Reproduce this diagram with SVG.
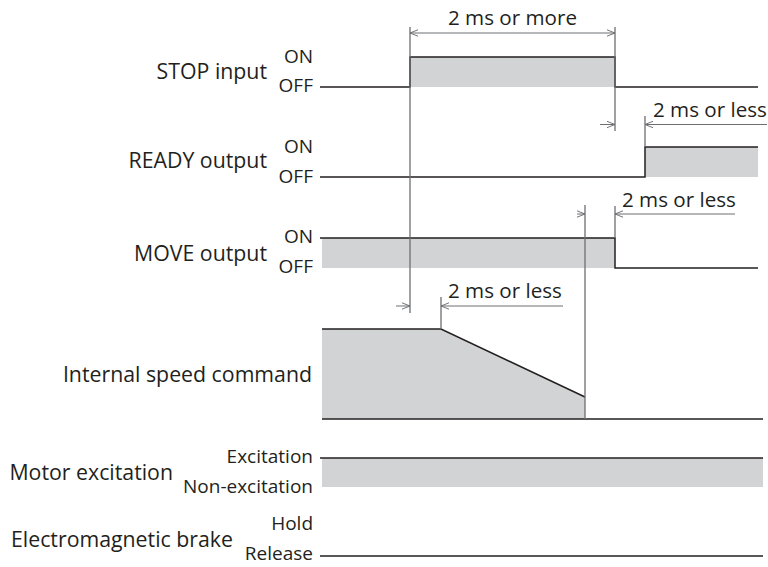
<svg xmlns="http://www.w3.org/2000/svg" width="768" height="567" viewBox="0 0 768 567">
<defs>
<style>
.lbl{font-family:"Open Sans","Noto Sans","Liberation Sans",sans-serif;font-size:21.3px;fill:#231f20;text-anchor:end}
.sm{font-family:"Open Sans","Noto Sans","Liberation Sans",sans-serif;font-size:19px;fill:#231f20;text-anchor:end}
.dim{font-family:"Open Sans","Noto Sans","Liberation Sans",sans-serif;font-size:20.6px;fill:#231f20}
.sig{fill:none;stroke:#231f20;stroke-width:1.5}
.fill{fill:#d1d3d4;stroke:none}
.ext{fill:none;stroke:#6d6e71;stroke-width:1.3}
.dl{fill:none;stroke:#6d6e71;stroke-width:1}
</style>
<marker id="ah" viewBox="0 0 10 10" refX="10" refY="5" markerWidth="8" markerHeight="8" markerUnits="userSpaceOnUse" orient="auto-start-reverse">
<path d="M0,1 L10,5 L0,9" fill="none" stroke="#6d6e71" stroke-width="1.2"/>
</marker>
</defs>
<rect width="768" height="567" fill="#fff"/>

<g id="stop-input">
<text class="lbl" x="267" y="79">STOP input</text>
<text class="sm" x="313" y="63">ON</text>
<text class="sm" x="313" y="92">OFF</text>
<rect class="fill" x="410" y="57" width="205" height="30"/>
<polyline class="sig" points="320,87 410,87 410,57 615,57 615,87 758,87"/>
</g>

<g id="ready-output">
<text class="lbl" x="267" y="168">READY output</text>
<text class="sm" x="313" y="153">ON</text>
<text class="sm" x="313" y="183">OFF</text>
<rect class="fill" x="645" y="147" width="113" height="30"/>
<polyline class="sig" points="320,177 645,177 645,147 758,147"/>
</g>

<g id="move-output">
<text class="lbl" x="267" y="261">MOVE output</text>
<text class="sm" x="313" y="243">ON</text>
<text class="sm" x="313" y="273">OFF</text>
<rect class="fill" x="322" y="238" width="293" height="30"/>
<polyline class="sig" points="320,238 615,238 615,268 758,268"/>
</g>

<g id="internal-speed-command">
<text class="lbl" x="312" y="382">Internal speed command</text>
<polygon class="fill" points="322,329 441,329 585,397 585,419 322,419"/>
<polyline class="sig" points="322,329 441,329 585,397"/>
<line class="sig" x1="322" y1="419" x2="763" y2="419"/>
</g>

<g id="motor-excitation">
<text class="lbl" x="173" y="480">Motor excitation</text>
<text class="sm" x="313" y="463">Excitation</text>
<text class="sm" x="313" y="493">Non-excitation</text>
<rect class="fill" x="322" y="458" width="441" height="29"/>
<line class="sig" x1="320" y1="458" x2="763" y2="458"/>
</g>

<g id="electromagnetic-brake">
<text class="lbl" x="233" y="547">Electromagnetic brake</text>
<text class="sm" x="313" y="530">Hold</text>
<text class="sm" x="313" y="560">Release</text>
<line class="sig" x1="320" y1="556" x2="763" y2="556"/>
</g>

<g id="connectors">
<line class="ext" x1="410" y1="27" x2="410" y2="313"/>
<line class="ext" x1="615" y1="27" x2="615" y2="131"/>
<line class="ext" x1="645" y1="116" x2="645" y2="147"/>
<line class="ext" x1="585" y1="205" x2="585" y2="419"/>
<line class="ext" x1="615" y1="206" x2="615" y2="238"/>
<line class="ext" x1="441" y1="297" x2="441" y2="329"/>

<line class="dl" x1="410" y1="33" x2="615" y2="33" marker-start="url(#ah)" marker-end="url(#ah)"/>

<line class="dl" x1="600" y1="124.5" x2="615" y2="124.5" marker-end="url(#ah)"/>
<line class="dl" x1="767" y1="124.5" x2="645" y2="124.5" marker-end="url(#ah)"/>

<line class="dl" x1="577" y1="214" x2="585" y2="214" marker-end="url(#ah)"/>
<line class="dl" x1="735" y1="214" x2="615" y2="214" marker-end="url(#ah)"/>

<line class="dl" x1="396" y1="306" x2="410" y2="306" marker-end="url(#ah)"/>
<line class="dl" x1="563" y1="306" x2="441" y2="306" marker-end="url(#ah)"/>

<text class="dim" x="448" y="25">2 ms or more</text>
<text class="dim" x="653" y="117">2 ms or less</text>
<text class="dim" x="622" y="207">2 ms or less</text>
<text class="dim" x="448" y="298">2 ms or less</text>
</g>
</svg>
